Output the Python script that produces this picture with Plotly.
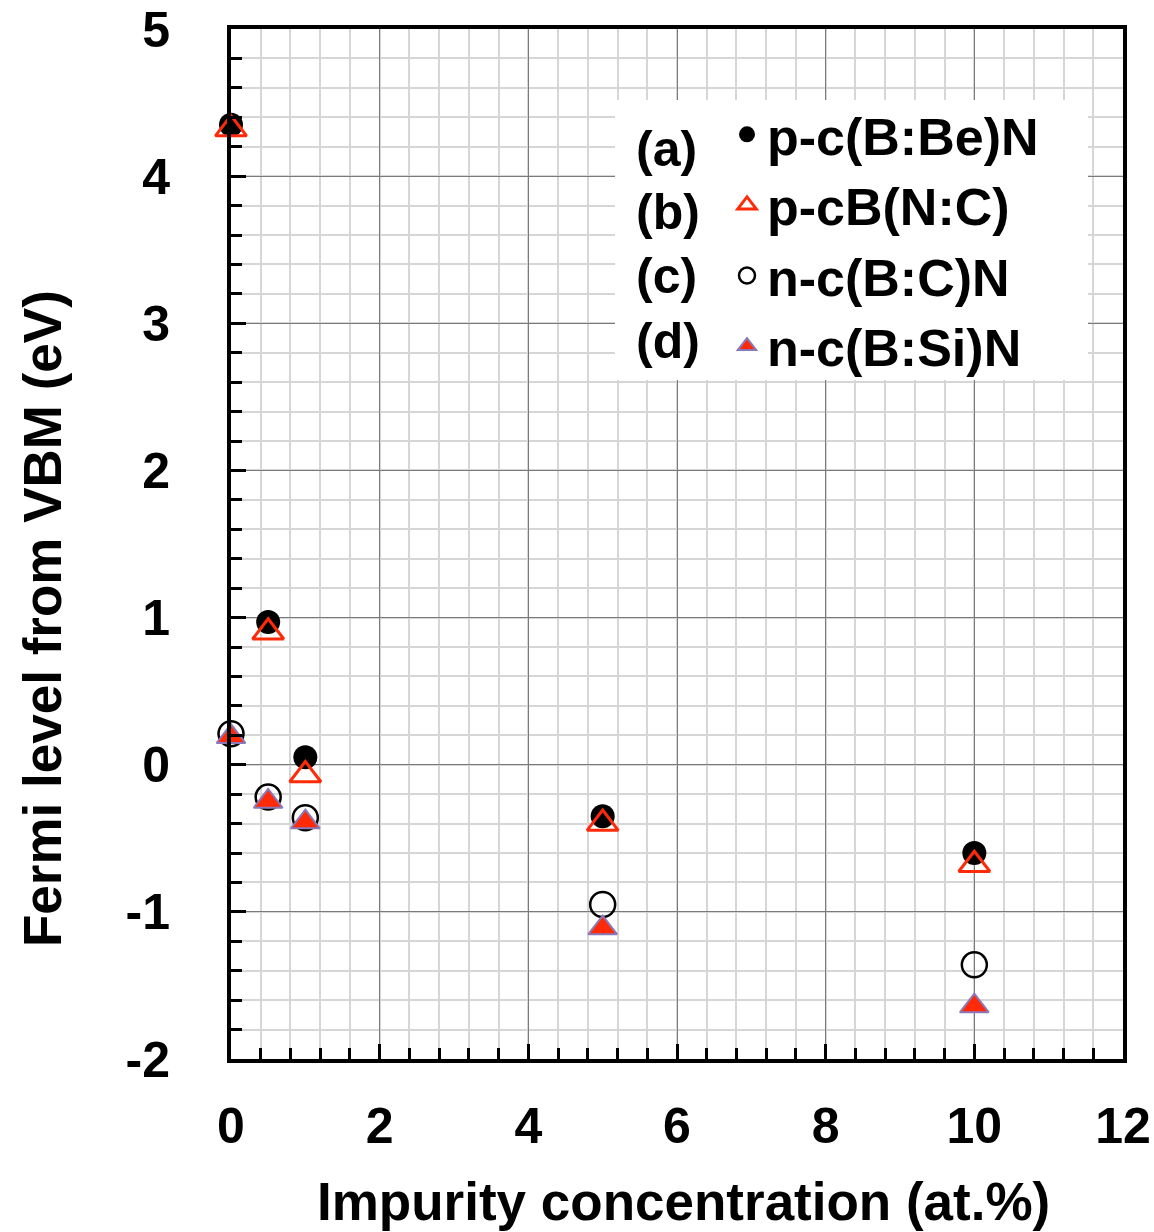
import plotly.graph_objects as go

# Impurity concentration (at.%)
conc = [0, 0.5, 1, 5, 10]

# Fermi level from VBM (eV) for each doping system
fermi_a = [4.35, 0.97, 0.05, -0.35, -0.60]   # p-c(B:Be)N
fermi_b = [4.32, 0.90, -0.07, -0.40, -0.68]  # p-cB(N:C)
fermi_c = [0.21, -0.22, -0.36, -0.95, -1.36] # n-c(B:C)N
fermi_d = [0.19, -0.25, -0.39, -1.11, -1.64] # n-c(B:Si)N

series_names = ["p-c(B:Be)N", "p-cB(N:C)", "n-c(B:C)N", "n-c(B:Si)N"]
series_tags = ["(a)", "(b)", "(c)", "(d)"]

x_tick_vals = [0, 2, 4, 6, 8, 10, 12]
x_tick_text = ["0", "2", "4", "6", "8", "10", "12"]
y_tick_vals = [-2, -1, 0, 1, 2, 3, 4, 5]
y_tick_text = ["-2", "-1", "0", "1", "2", "3", "4", "5"]

x_range = [0, 12]
y_range = [-2, 5]

W, H = 1154, 1232
L, R, T, B = 231, 31, 29, 173
PW, PH = W - L - R, H - T - B

FONT = "Liberation Sans, Arial, Helvetica, sans-serif"
RED = "#ff2a08"


def px_x(p):
    return (p - L) / PW


def px_y(p):
    return (H - B - p) / PH


fig = go.Figure()

styles = [
    dict(symbol="circle", size=24, color="black", line=dict(width=0)),
    dict(symbol="triangle-up-open", size=27, color=RED, line=dict(width=3, color=RED)),
    dict(symbol="circle-open", size=25, color="black", line=dict(width=2.5, color="black")),
    dict(symbol="triangle-up", size=25, color=RED, line=dict(width=2, color="#8a78b8")),
]

for name, ys, st in zip(series_names, [fermi_a, fermi_b, fermi_c, fermi_d], styles):
    fig.add_trace(go.Scatter(
        x=conc, y=ys, mode="markers", name=name,
        marker=st, cliponaxis=False,
    ))

axis_common = dict(
    showline=True, linecolor="black", linewidth=4, mirror=True,
    ticks="inside", tickcolor="black", tickwidth=3, ticklen=15,
    showgrid=True, gridcolor="#7a7a7a", gridwidth=1,
    zeroline=False, automargin=False, tickmode="array",
    tickfont=dict(family=FONT, size=50, color="black", weight="bold"),
)

fig.update_xaxes(
    range=x_range, tickvals=x_tick_vals, ticktext=x_tick_text, ticklabelstandoff=20,
    minor=dict(dtick=0.4, tick0=0, ticks="inside", ticklen=11, tickwidth=3, tickcolor="black",
               showgrid=True, gridcolor="#d6d6d6", gridwidth=1.5),
    **axis_common,
)
fig.update_yaxes(
    range=y_range, tickvals=y_tick_vals, ticktext=y_tick_text, ticklabelstandoff=47,
    minor=dict(dtick=0.2, tick0=0, ticks="inside", ticklen=11, tickwidth=3, tickcolor="black",
               showgrid=True, gridcolor="#d6d6d6", gridwidth=1.5),
    **axis_common,
)

# white panel behind the legend block (no data marks fall in this region)
fig.add_shape(
    type="rect", xref="paper", yref="paper",
    x0=px_x(615), x1=px_x(1088), y0=px_y(380), y1=px_y(100),
    fillcolor="white", line=dict(width=0), layer="above",
)

annotations = []
for tag, yc in zip(series_tags, [149, 212, 276, 341]):
    annotations.append(dict(
        text=tag, xref="paper", yref="paper", x=px_x(634), y=px_y(yc),
        xanchor="left", yanchor="middle", showarrow=False,
        font=dict(family=FONT, size=50, color="black", weight="bold"),
    ))

annotations.append(dict(
    text="Impurity concentration (at.%)", xref="paper", yref="paper",
    x=px_x(683), y=px_y(1201), xanchor="center", yanchor="middle", showarrow=False,
    font=dict(family=FONT, size=53, color="black", weight="bold"),
))
annotations.append(dict(
    text="Fermi level from VBM (eV)", xref="paper", yref="paper",
    x=px_x(42), y=px_y(619), xanchor="center", yanchor="middle", showarrow=False,
    textangle=-90,
    font=dict(family=FONT, size=53, color="black", weight="bold"),
))

fig.update_layout(
    width=W, height=H, autosize=False,
    margin=dict(l=L, r=R, t=T, b=B, pad=0),
    plot_bgcolor="white", paper_bgcolor="white",
    annotations=annotations,
    showlegend=True,
    legend=dict(
        x=px_x(727), y=px_y(94), xanchor="left", yanchor="top",
        bgcolor="rgba(0,0,0,0)", borderwidth=0,
        font=dict(family=FONT, size=52, color="black", weight="bold"),
        itemsizing="trace", tracegroupgap=0,
    ),
)

fig.write_html("out.html")
